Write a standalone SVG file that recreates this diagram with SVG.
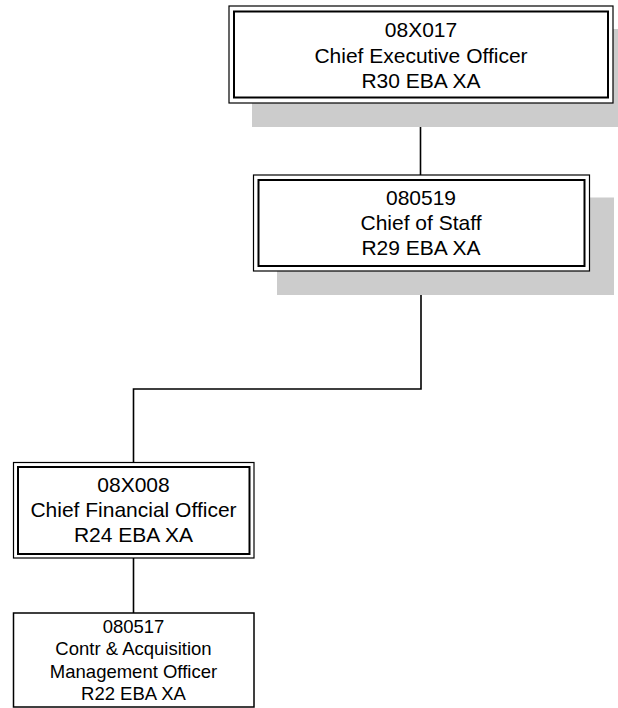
<svg xmlns="http://www.w3.org/2000/svg" width="618" height="708" viewBox="0 0 618 708">
<style>
.shadow{fill:#cccccc;stroke:none}
.outer{fill:#ffffff;stroke:#000000;stroke-width:1.2}
.inner{fill:none;stroke:#000000;stroke-width:2}
.single{fill:#ffffff;stroke:#000000;stroke-width:1.5}
.t{font-family:"Liberation Sans",Arial,sans-serif;font-size:21px;fill:#000000;text-anchor:middle}
.s{font-family:"Liberation Sans",Arial,sans-serif;font-size:18.5px;fill:#000000;text-anchor:middle}
.conn{fill:none;stroke:#000000;stroke-width:1.6}
</style>
<rect width="618" height="708" fill="#ffffff"/>
<g id="connectors">
<path class="conn" d="M420.5,103 V175"/>
<path class="conn" d="M421,271 V389 H133.5 V462.5"/>
<path class="conn" d="M133.5,558 V613"/>
</g>
<g id="node-08X017">
<rect class="shadow" x="252" y="29" width="384" height="98"/>
<rect class="outer" x="229" y="6" width="384" height="97"/>
<rect class="inner" x="234" y="11.5" width="374" height="86"/>
<text class="t" x="421" y="37">08X017</text>
<text class="t" x="421" y="62.5">Chief Executive Officer</text>
<text class="t" x="421" y="88">R30 EBA XA</text>
</g>
<g id="node-080519">
<rect class="shadow" x="277" y="197.5" width="337" height="97.5"/>
<rect class="outer" x="253.5" y="175" width="336" height="96"/>
<rect class="inner" x="258.5" y="180" width="326" height="86"/>
<text class="t" x="421" y="205">080519</text>
<text class="t" x="421" y="230">Chief of Staff</text>
<text class="t" x="421" y="255">R29 EBA XA</text>
</g>
<g id="node-08X008">
<rect class="outer" x="13.5" y="462.5" width="240.5" height="95.5"/>
<rect class="inner" x="18" y="467" width="231.5" height="87"/>
<text class="t" x="133.5" y="492">08X008</text>
<text class="t" x="133.5" y="517">Chief Financial Officer</text>
<text class="t" x="133.5" y="542">R24 EBA XA</text>
</g>
<g id="node-080517">
<rect class="single" x="13.5" y="613" width="240.5" height="94"/>
<text class="s" x="133.5" y="633">080517</text>
<text class="s" x="133.5" y="655">Contr &amp; Acquisition</text>
<text class="s" x="133.5" y="677.5">Management Officer</text>
<text class="s" x="133.5" y="699.5">R22 EBA XA</text>
</g>
</svg>
